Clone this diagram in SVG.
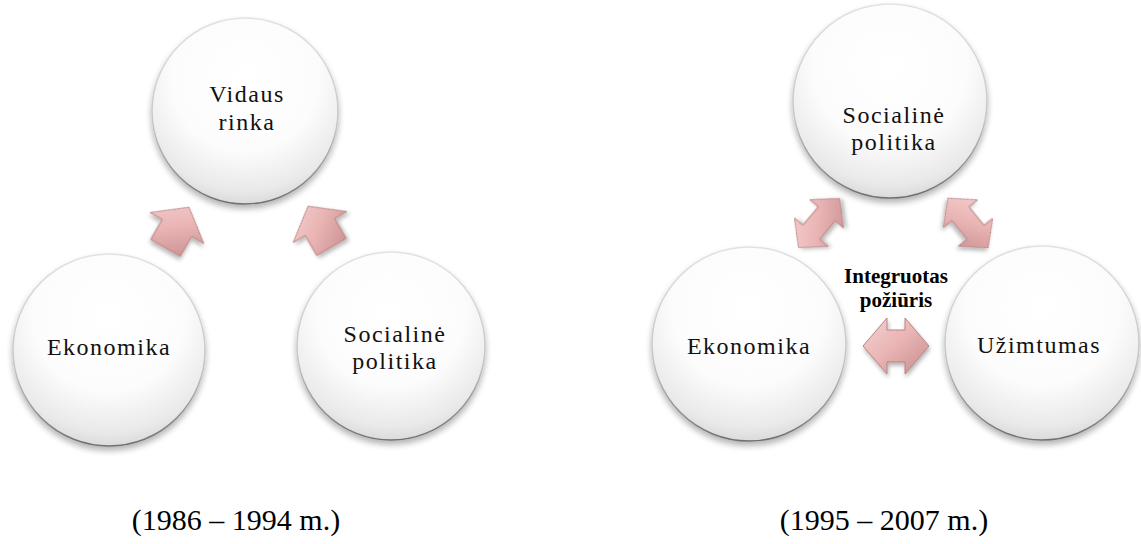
<svg xmlns="http://www.w3.org/2000/svg" width="1141" height="544" viewBox="0 0 1141 544" font-family="'Liberation Serif', 'Times New Roman', serif">
<defs>
<radialGradient id="ballFill" cx="0.5" cy="0.32" r="0.72">
<stop offset="0" stop-color="#ffffff"/>
<stop offset="0.55" stop-color="#fcfcfc"/>
<stop offset="0.85" stop-color="#e9e9e9"/>
<stop offset="1" stop-color="#d2d2d2"/>
</radialGradient>
<linearGradient id="ballRim" x1="0" y1="0" x2="0" y2="1">
<stop offset="0" stop-color="#e2e2e2"/>
<stop offset="0.6" stop-color="#c4c4c4"/>
<stop offset="1" stop-color="#6f6f6f"/>
</linearGradient>
<linearGradient id="arrowFill" x1="0" y1="0" x2="1" y2="1">
<stop offset="0" stop-color="#f7d2d2"/>
<stop offset="0.5" stop-color="#e9b3b3"/>
<stop offset="1" stop-color="#c68c8c"/>
</linearGradient>
<filter id="shadow" x="-20%" y="-20%" width="140%" height="150%">
<feGaussianBlur in="SourceAlpha" stdDeviation="3"/>
<feOffset dx="0" dy="4" result="b"/>
<feComponentTransfer><feFuncA type="linear" slope="0.3"/></feComponentTransfer>
<feMerge><feMergeNode/><feMergeNode in="SourceGraphic"/></feMerge>
</filter>
<filter id="ashadow" x="-30%" y="-30%" width="160%" height="160%">
<feGaussianBlur in="SourceAlpha" stdDeviation="2"/>
<feOffset dx="1" dy="3" result="b"/>
<feComponentTransfer><feFuncA type="linear" slope="0.3"/></feComponentTransfer>
<feMerge><feMergeNode/><feMergeNode in="SourceGraphic"/></feMerge>
</filter>
<path id="upArrow" d="M0,-24 L31,0 L17,0 L17,23 L-17,23 L-17,0 L-31,0 Z"/>
<path id="dblArrow" d="M-32,0 L-12,-22 L-12,-11 L12,-11 L12,-22 L32,0 L12,22 L12,11 L-12,11 L-12,22 Z"/>
<path id="hArrow" d="M-33,0 L-9,-28 L-9,-16 L9,-16 L9,-28 L33,0 L9,28 L9,16 L-9,16 L-9,28 Z"/>
</defs>
<style>
.ball{fill:url(#ballFill);stroke:url(#ballRim);stroke-width:1.5;filter:url(#shadow)}
.arr{fill:url(#arrowFill);stroke:#b98282;stroke-width:1;stroke-linejoin:round;filter:url(#ashadow)}
.lbl{font-family:'Liberation Serif','Times New Roman',serif;font-size:24px;fill:#111;text-anchor:middle;letter-spacing:1.5px}
.bold{font-family:'Liberation Serif','Times New Roman',serif;font-size:21px;font-weight:bold;fill:#000;text-anchor:middle}
.cap{font-family:'Liberation Serif','Times New Roman',serif;font-size:30px;fill:#000;text-anchor:middle}
</style>

<g id="vidaus-rinka">
<circle class="ball" cx="245" cy="111" r="93"/>
<text class="lbl" x="247" y="102">Vidaus</text>
<text class="lbl" x="247" y="130">rinka</text>
</g>
<g id="ekonomika-1">
<circle class="ball" cx="109" cy="350" r="96"/>
<text class="lbl" x="109" y="355">Ekonomika</text>
</g>
<g id="socialine-politika-1">
<circle class="ball" cx="391" cy="346" r="94"/>
<text class="lbl" x="395" y="342">Socialinė</text>
<text class="lbl" x="395" y="369">politika</text>
</g>

<g id="socialine-politika-2">
<circle class="ball" cx="890" cy="101" r="97"/>
<text class="lbl" x="894" y="123">Socialinė</text>
<text class="lbl" x="894" y="150">politika</text>
</g>
<g id="ekonomika-2">
<circle class="ball" cx="749" cy="344" r="97"/>
<text class="lbl" x="749" y="354">Ekonomika</text>
</g>
<g id="uzimtumas">
<circle class="ball" cx="1042" cy="343" r="97"/>
<text class="lbl" x="1039" y="353">Užimtumas</text>
</g>

<g id="connectors">
<use href="#upArrow" class="arr" transform="translate(177,228) rotate(30)"/>
<use href="#upArrow" class="arr" transform="translate(320,227) rotate(-30)"/>
<use href="#dblArrow" class="arr" transform="translate(819,223) rotate(-50)"/>
<use href="#dblArrow" class="arr" transform="translate(968,223) rotate(51)"/>
<use href="#hArrow" class="arr" transform="translate(896,346)"/>
</g>

<g id="label-integruotas">
<text class="bold" x="896" y="283">Integruotas</text>
<text class="bold" x="896" y="307">požiūris</text>
</g>

<g id="captions">
<text class="cap" x="236" y="530">(1986 – 1994 m.)</text>
<text class="cap" x="884" y="530">(1995 – 2007 m.)</text>
</g>
</svg>
